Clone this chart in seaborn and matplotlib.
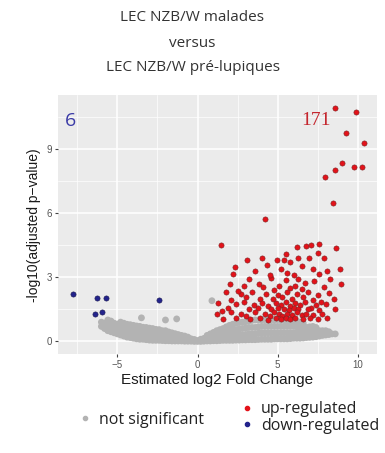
#!/usr/bin/env python3
"""Volcano plot: LEC NZB/W malades vs pre-lupiques."""

import matplotlib
matplotlib.use("Agg")
import matplotlib.pyplot as plt
from matplotlib.lines import Line2D
import pandas as pd
import seaborn as sns

# --- data (log2 fold change, -log10 adjusted p) ---
up_x = [8.6, 9.9, 9.25, 10.4, 9.0, 8.6, 7.96, 9.8, 10.3, 8.46, 4.19,
        1.44, 8.67, 6.2, 6.8, 7.1, 7.6, 7.5, 6.96, 4.98, 5.4, 5.8, 2.37, 4.35,
        5.2, 8.9, 8.06, 7.6, 2.23, 6.0, 3.83, 8.94, 2.7, 2.06, 1.54, 7.7, 7.06,
        3.2, 4.6, 5.5, 6.3, 6.7, 7.3, 5.1, 4.1, 6.1, 7.9, 2.9, 5.8, 6.5, 4.8,
        1.8, 2.5, 3.4, 4.3, 5.0, 5.6, 6.2, 6.9, 7.5, 8.2, 3.0, 3.9, 4.7, 5.3,
        5.9, 6.6, 7.2, 8.5,
        1.3, 2.4, 2.9, 3.5, 4.0, 4.4, 4.9, 5.2, 5.5, 5.8, 6.1, 6.4, 6.7, 7.4,
        8.0, 1.9, 3.2, 3.8, 4.6, 5.0, 5.4, 5.7, 6.0, 6.3, 6.9, 7.6,
        1.2, 2.1, 2.7, 3.0, 3.6, 4.2, 4.5, 4.8, 5.1, 5.3, 5.6, 5.9, 6.2, 6.5,
        6.8, 7.2, 7.8, 2.4, 3.3, 3.9, 4.4, 4.9, 5.2, 5.5, 5.8, 6.1, 6.6, 7.0,
        7.5, 8.1,
        1.6, 2.0, 3.6, 4.5, 5.6, 6.5, 7.2, 6.3, 5.5, 4.0, 7.9, 3.1, 8.3, 8.6]
up_y = [10.9, 10.7, 9.74, 9.26, 8.34, 8.0, 7.66, 8.16, 8.16, 6.47, 5.7,
        4.5, 4.36, 4.4, 4.45, 4.5, 4.55, 4.13, 3.88, 3.82, 3.78, 3.72, 3.47, 3.55,
        3.4, 3.36, 3.29, 3.17, 3.13, 3.09, 2.7, 2.7, 2.2, 1.94, 1.4, 1.86, 1.57,
        2.9, 2.95, 2.85, 2.9, 2.75, 2.8, 2.6, 2.55, 2.6, 2.55, 2.6, 2.5, 2.45, 2.4,
        2.3, 2.35, 2.3, 2.2, 2.15, 2.3, 2.2, 2.3, 2.15, 2.25, 2.05, 2.0, 2.0, 2.05,
        2.0, 2.05, 1.95, 2.0,
        1.8, 1.75, 1.85, 1.7, 1.8, 1.65, 1.8, 1.7, 1.85, 1.65, 1.8, 1.7, 1.85, 1.7,
        1.75, 1.55, 1.5, 1.55, 1.5, 1.55, 1.5, 1.45, 1.55, 1.5, 1.5, 1.45,
        1.3, 1.35, 1.3, 1.2, 1.35, 1.3, 1.2, 1.35, 1.3, 1.2, 1.3, 1.25, 1.35, 1.25,
        1.3, 1.25, 1.3, 1.1, 1.05, 1.1, 1.0, 1.1, 1.05, 1.1, 1.05, 1.1, 1.05, 1.1,
        1.05, 1.1,
        1.05, 2.7, 3.3, 3.1, 3.2, 3.5, 3.4, 3.9, 4.1, 3.9, 3.9, 3.8, 2.9, 1.5]

down_x = [-7.8, -6.3, -5.7, -6.4, -5.96, -2.4]
down_y = [2.2, 2.04, 2.04, 1.29, 1.37, 1.95]

# grey cloud, read column by column: log2fc -> list of -log10 p
ns_columns = {
    -6.0: [0.7, 0.9], -5.8: [0.6, 0.85], -5.6: [0.5, 0.75, 1.0],
    -5.4: [0.45, 0.7, 0.95], -5.2: [0.4, 0.6, 0.85], -5.0: [0.35, 0.55, 0.8],
    -4.8: [0.3, 0.5, 0.7, 0.9], -4.6: [0.25, 0.45, 0.65, 0.85],
    -4.4: [0.2, 0.4, 0.6, 0.8], -4.2: [0.18, 0.38, 0.58, 0.78],
    -4.0: [0.15, 0.35, 0.55, 0.75], -3.8: [0.12, 0.32, 0.52, 0.72],
    -3.6: [0.1, 0.3, 0.5, 0.7], -3.4: [0.1, 0.28, 0.48, 0.66],
    -3.2: [0.08, 0.25, 0.45, 0.65], -3.0: [0.06, 0.22, 0.42, 0.62],
    -2.8: [0.05, 0.2, 0.4, 0.6], -2.6: [0.05, 0.2, 0.38, 0.56],
    -2.4: [0.05, 0.2, 0.35, 0.55], -2.2: [0.04, 0.18, 0.32, 0.5],
    -2.0: [0.03, 0.15, 0.3, 0.5, 1.0], -1.8: [0.03, 0.14, 0.28, 0.44],
    -1.6: [0.02, 0.12, 0.25, 0.4], -1.4: [0.02, 0.1, 0.22, 0.36],
    -1.2: [0.02, 0.1, 0.2, 0.32], -1.0: [0.02, 0.09, 0.18, 0.28],
    -0.8: [0.01, 0.08, 0.15, 0.25], -0.6: [0.01, 0.06, 0.14, 0.2],
    -0.4: [0.01, 0.05, 0.12], -0.2: [0.0, 0.04, 0.09],
    0.0: [0.0, 0.04], 0.2: [0.0, 0.05, 0.1], 0.4: [0.01, 0.06, 0.14],
    0.6: [0.02, 0.08, 0.18, 0.28], 0.8: [0.02, 0.1, 0.22, 0.35],
    1.0: [0.03, 0.12, 0.26, 0.42], 1.2: [0.03, 0.15, 0.3, 0.5],
    1.4: [0.04, 0.18, 0.35, 0.55], 1.6: [0.05, 0.2, 0.4, 0.6],
    1.8: [0.05, 0.22, 0.45, 0.68], 2.0: [0.05, 0.25, 0.5, 0.75],
    2.2: [0.05, 0.28, 0.52, 0.8], 2.4: [0.06, 0.3, 0.55, 0.85],
    2.6: [0.06, 0.3, 0.58, 0.88], 2.8: [0.07, 0.3, 0.6, 0.9],
    3.0: [0.07, 0.32, 0.62, 0.92], 3.2: [0.08, 0.35, 0.65, 0.95],
    3.4: [0.08, 0.35, 0.65, 0.98], 3.6: [0.08, 0.35, 0.65, 1.0],
    3.8: [0.09, 0.38, 0.68, 1.0], 4.0: [0.1, 0.4, 0.7, 1.0],
    4.2: [0.1, 0.4, 0.7, 1.02], 4.4: [0.1, 0.4, 0.7, 1.0],
    4.6: [0.1, 0.4, 0.7, 1.02], 4.8: [0.12, 0.4, 0.7, 1.0],
    5.0: [0.12, 0.4, 0.7, 1.02], 5.2: [0.12, 0.4, 0.7, 1.0],
    5.4: [0.12, 0.4, 0.7, 1.0], 5.6: [0.12, 0.4, 0.7, 0.95],
    5.8: [0.13, 0.4, 0.7, 0.98], 6.0: [0.15, 0.4, 0.7, 0.95],
    6.2: [0.15, 0.4, 0.68, 0.92], 6.4: [0.15, 0.4, 0.65, 0.9],
    6.6: [0.16, 0.4, 0.65, 0.85], 6.8: [0.18, 0.4, 0.65],
    7.0: [0.19, 0.42, 0.68], 7.2: [0.2, 0.45, 0.7], 7.4: [0.22, 0.48, 0.65],
    7.6: [0.25, 0.5], 7.8: [0.28, 0.5], 8.0: [0.3, 0.5], 8.2: [0.32, 0.45],
    8.4: [0.35], 8.6: [0.35],
    -1.3: [1.05], -3.5: [1.1], 0.9: [1.9],
}

n_down = len(down_x)
n_up = 171

ns_x = [x for x, ys in ns_columns.items() for _ in ys]
ns_y = [y for ys in ns_columns.values() for y in ys]

df = pd.concat([
    pd.DataFrame({"log2fc": ns_x, "logp": ns_y, "status": "not significant"}),
    pd.DataFrame({"log2fc": up_x, "logp": up_y, "status": "up-regulated"}),
    pd.DataFrame({"log2fc": down_x, "logp": down_y, "status": "down-regulated"}),
], ignore_index=True)

palette = {"not significant": "#b3b3b3", "up-regulated": "#e3121a",
           "down-regulated": "#23238c"}
edges = {"not significant": "none", "up-regulated": "#7a2424",
         "down-regulated": "#1a1a50"}
sizes = {"not significant": 24, "up-regulated": 14, "down-regulated": 14}

sns.set_theme(style="darkgrid", rc={
    "axes.facecolor": "#ebebeb",
    "grid.color": "white",
    "figure.facecolor": "white",
})
plt.rcParams["font.family"] = ["Liberation Sans", "DejaVu Sans"]

fig = plt.figure(figsize=(3.85, 4.53), dpi=100)
ax = fig.add_axes([0.151, 0.218, 0.828, 0.572])

for status in ["not significant", "up-regulated", "down-regulated"]:
    sub = df[df["status"] == status]
    sns.scatterplot(data=sub, x="log2fc", y="logp", color=palette[status],
                    s=sizes[status], linewidth=0.4, ax=ax, legend=False,
                    edgecolor=edges[status])

ax.set_xlim(-8.7, 11.2)
ax.set_ylim(-0.6, 11.5)
ax.set_xticks([-5, 0, 5, 10])
ax.set_yticks([0, 3, 6, 9])
ax.set_xticks([-7.5, -2.5, 2.5, 7.5], minor=True)
ax.set_yticks([1.5, 4.5, 7.5, 10.5], minor=True)
ax.grid(which="major", color="white", linewidth=1.1)
ax.grid(which="minor", color="white", linewidth=0.5)
ax.tick_params(which="major", length=2.5, width=0.8, color="#444444",
               labelsize=7, labelcolor="#555555", pad=2, direction="out",
               bottom=True, left=True)
ax.tick_params(which="minor", length=0)
for sp in ax.spines.values():
    sp.set_visible(False)

ax.set_xlabel("Estimated log2 Fold Change", fontsize=11, color="#1a1a1a",
              labelpad=2)
ax.set_ylabel("-log10(adjusted p\u2212value)", fontsize=10, color="#1a1a1a",
              labelpad=4)

ax.text(-7.9, 10.3, str(n_down), color="#3a3aa6", fontsize=14,
        ha="center", va="center", family=["Open Sans", "DejaVu Sans"])
ax.text(7.4, 10.3, str(n_up), color="#c4262e", fontsize=14,
        ha="center", va="center", family=["Liberation Serif", "DejaVu Serif"])

title_font = ["Open Sans", "DejaVu Sans"]
fig.text(0.5, 0.962, "LEC NZB/W malades", ha="center", va="center",
         fontsize=11, color="#333333", family=title_font)
fig.text(0.5, 0.905, "versus", ha="center", va="center",
         fontsize=11, color="#333333", family=title_font)
fig.text(0.5, 0.85, "LEC NZB/W pr\u00e9-lupiques", ha="center", va="center",
         fontsize=11, color="#333333", family=title_font)


def _dot(c):
    return Line2D([], [], marker="o", linestyle="", color=c, markersize=3)


leg_kw = dict(frameon=False, handletextpad=0.4, labelspacing=0.05,
              prop={"family": title_font, "size": 11.5},
              borderaxespad=0, borderpad=0, handlelength=1.0,
              labelcolor="#222222")
fig.legend([_dot(palette["not significant"])], ["not significant"],
           loc="center left", bbox_to_anchor=(0.2, 0.073), **leg_kw)
fig.legend([_dot(palette["up-regulated"]), _dot(palette["down-regulated"])],
           ["up-regulated", "down-regulated"],
           loc="center left", bbox_to_anchor=(0.62, 0.078), **leg_kw)

fig.savefig("out.png", dpi=100)
plt.close(fig)
